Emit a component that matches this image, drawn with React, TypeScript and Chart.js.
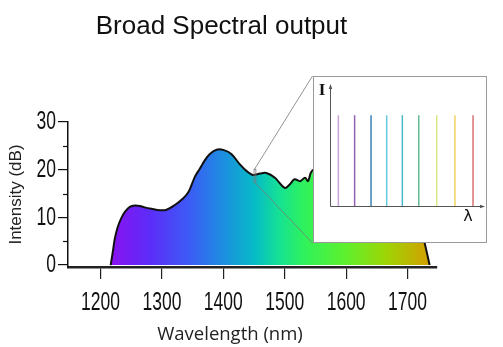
import React, { useEffect, useRef } from 'react';
import { Chart, registerables } from 'chart.js';

Chart.register(...registerables);

// ---------- data ----------
const TITLE = 'Broad Spectral output';
const X_LABEL = 'Wavelength (nm)';
const Y_LABEL = 'Intensity (dB)';
const X_TICKS = [1200, 1300, 1400, 1500, 1600, 1700];
const Y_TICKS = [0, 10, 20, 30];
const Y_MINOR_TICKS = [5, 15, 25];

const SPECTRUM_WL = [
  1216.5, 1220, 1223.3, 1228, 1234, 1240, 1247.7, 1256, 1264, 1272, 1283, 1296.6,
  1307.5, 1321, 1332, 1342.7, 1353.6, 1361.7, 1370, 1378, 1389, 1401, 1413, 1427,
  1438, 1448, 1460, 1470, 1484, 1500, 1508, 1516, 1525, 1533, 1538, 1544, 1560,
  1600, 1650, 1700, 1716, 1728, 1736,
];
const SPECTRUM_DB = [
  0, 2.8, 5.6, 8.0, 9.9, 11.2, 12.2, 12.5, 12.4, 12.1, 11.8, 11.5,
  11.6, 12.6, 13.7, 15.2, 18.5, 20.2, 22.0, 23.3, 24.2, 24.1, 23.3, 21.1,
  19.7, 18.9, 19.2, 19.3, 18.3, 16.2, 16.9, 18.0, 17.6, 18.3, 17.6, 19.7, 20.5,
  21, 20, 16, 11, 4.6, 0,
];

// zoomed window on the spectrum (wavelength range, intensity range)
const ZOOM_WL = [1450, 1453];
const ZOOM_DB = [17.4, 20.1];

// inset: comb lines (relative position along inset λ axis, 0..100) and level
const COMB_POS = [5.5, 16.2, 27.0, 37.3, 47.6, 58.4, 70.2, 82.2, 94.1];
const COMB_LEVEL = [0.75, 0.75, 0.75, 0.75, 0.75, 0.75, 0.75, 0.75, 0.75];

// ---------- styles ----------
const COMB_COLORS = [
  '#c9a3da', '#9361b3', '#3b80b2', '#63c9e0', '#45b9c9', '#62b991', '#d9e985', '#f0d262', '#d97272',
];
const GRADIENT_STOPS: [number, string][] = [
  [1216, '#8a12f0'],
  [1280, '#5c2cf8'],
  [1345, '#3c5cf6'],
  [1400, '#1c8ee0'],
  [1452, '#06bcc6'],
  [1492, '#16e292'],
  [1533, '#30f25a'],
  [1598, '#5ef02e'],
  [1663, '#9cd606'],
  [1736, '#d49e00'],
];
const SANS = "'Liberation Sans', Arial, sans-serif";
const TICK_FONT = "25px 'Liberation Sans', Arial, sans-serif";
const SQUEEZE = 0.7;
const INSET = { left: 312.5, top: 76, width: 174, height: 167 };

function drawSqueezed(ctx: CanvasRenderingContext2D, text: string, x: number, y: number, align: CanvasTextAlign) {
  ctx.save();
  ctx.translate(x, y);
  ctx.scale(SQUEEZE, 1);
  ctx.textAlign = align;
  ctx.textBaseline = 'middle';
  ctx.fillText(text, 0, 0);
  ctx.restore();
}

const overlayPlugin = {
  id: 'overlay',
  afterDraw(chart: any) {
    const { ctx, scales } = chart;
    const x = scales.x;
    const y = scales.y;
    ctx.save();
    // minor y ticks
    ctx.strokeStyle = '#111';
    ctx.lineWidth = 1.2;
    Y_MINOR_TICKS.forEach((v) => {
      const py = Math.round(y.getPixelForValue(v)) + 0.5;
      ctx.beginPath();
      ctx.moveTo(x.left - 5, py);
      ctx.lineTo(x.left, py);
      ctx.stroke();
    });
    // tick labels (condensed face)
    ctx.fillStyle = '#111';
    ctx.font = TICK_FONT;
    X_TICKS.forEach((v) => drawSqueezed(ctx, String(v), x.getPixelForValue(v), 303, 'center'));
    Y_TICKS.forEach((v) => drawSqueezed(ctx, String(v), 56, y.getPixelForValue(v) + 0.5, 'right'));
    // zoom rectangle and connector lines
    const x0 = x.getPixelForValue(ZOOM_WL[0]);
    const x1 = x.getPixelForValue(ZOOM_WL[1]);
    const y0 = y.getPixelForValue(ZOOM_DB[1]);
    const y1 = y.getPixelForValue(ZOOM_DB[0]);
    ctx.strokeStyle = '#7a7a7a';
    ctx.lineWidth = 0.8;
    ctx.strokeRect(x0, y0, x1 - x0, y1 - y0);
    ctx.beginPath();
    ctx.moveTo(x0 + 0.5, y0);
    ctx.lineTo(INSET.left, INSET.top);
    ctx.moveTo(x0 + 0.5, y1);
    ctx.lineTo(INSET.left, INSET.top + INSET.height);
    ctx.stroke();
    // x axis title
    ctx.fillStyle = '#222';
    ctx.font = "18.5px 'Open Sans', sans-serif";
    ctx.textAlign = 'center';
    ctx.textBaseline = 'middle';
    ctx.fillText(X_LABEL, 230, 335);
    ctx.restore();
  },
};

const insetAxesPlugin = {
  id: 'insetAxes',
  afterDraw(chart: any) {
    const { ctx, chartArea } = chart;
    const { left, top, right, bottom } = chartArea;
    const ox = Math.round(left) + 0.5;
    const oy = Math.round(bottom) + 0.5;
    ctx.save();
    ctx.strokeStyle = '#555';
    ctx.fillStyle = '#555';
    ctx.lineWidth = 1;
    ctx.beginPath();
    ctx.moveTo(ox, oy);
    ctx.lineTo(ox, top);
    ctx.moveTo(ox, oy);
    ctx.lineTo(right + 2, oy);
    ctx.stroke();
    ctx.beginPath();
    ctx.moveTo(ox, top - 1);
    ctx.lineTo(ox - 1.8, top + 4);
    ctx.lineTo(ox + 1.8, top + 4);
    ctx.closePath();
    ctx.fill();
    ctx.beginPath();
    ctx.moveTo(right + 3, oy);
    ctx.lineTo(right - 2, oy - 1.8);
    ctx.lineTo(right - 2, oy + 1.8);
    ctx.closePath();
    ctx.fill();
    ctx.fillStyle = '#111';
    ctx.textAlign = 'center';
    ctx.textBaseline = 'middle';
    ctx.font = "bold 17px 'Liberation Serif', 'DejaVu Serif', serif";
    ctx.fillText('I', left - 8, top + 6);
    ctx.font = "16px 'DejaVu Sans', sans-serif";
    ctx.fillText('λ', right - 14, bottom + 11);
    ctx.restore();
  },
};

export default function App() {
  const mainRef = useRef<HTMLCanvasElement>(null);
  const insetRef = useRef<HTMLCanvasElement>(null);

  useEffect(() => {
    const main = new Chart(mainRef.current as HTMLCanvasElement, {
      type: 'line',
      data: {
        datasets: [
          {
            data: SPECTRUM_WL.map((wl, i) => ({ x: wl, y: SPECTRUM_DB[i] })),
            borderColor: '#111',
            borderWidth: 2,
            pointRadius: 0,
            tension: 0.35,
            fill: 'origin',
            backgroundColor: (context: any) => {
              const chart = context.chart;
              const { ctx, chartArea, scales } = chart;
              if (!chartArea || !scales.x) return '#3c5cf6';
              const xs = scales.x;
              const a = xs.getPixelForValue(GRADIENT_STOPS[0][0]);
              const b = xs.getPixelForValue(GRADIENT_STOPS[GRADIENT_STOPS.length - 1][0]);
              const g = ctx.createLinearGradient(a, 0, b, 0);
              GRADIENT_STOPS.forEach(([wl, c]) => {
                g.addColorStop((xs.getPixelForValue(wl) - a) / (b - a), c);
              });
              return g;
            },
          } as any,
        ],
      },
      options: {
        responsive: false,
        animation: false,
        layout: { padding: { left: 6, right: 66, top: 0, bottom: 0 } },
        plugins: {
          legend: { display: false },
          tooltip: { enabled: false },
          title: {
            display: true,
            text: TITLE,
            color: '#111',
            font: { family: SANS, size: 26, weight: 'normal' as any },
            padding: { top: 11.4, bottom: 79.4 },
          },
        },
        scales: {
          x: {
            type: 'linear',
            min: 1147,
            max: 1748,
            afterBuildTicks: (s: any) => {
              s.ticks = X_TICKS.map((value) => ({ value }));
            },
            afterFit: (s: any) => {
              s.height = 80;
            },
            grid: { drawOnChartArea: false, drawTicks: true, tickLength: 12, color: '#222', lineWidth: 1.2 },
            border: { display: true, color: '#222', width: 2.5 },
            ticks: { display: false },
          },
          y: {
            type: 'linear',
            min: -0.4,
            max: 30,
            afterBuildTicks: (s: any) => {
              s.ticks = Y_TICKS.map((value) => ({ value }));
            },
            afterFit: (s: any) => {
              s.width = 62;
            },
            grid: { drawOnChartArea: false, drawTicks: true, tickLength: 10, color: '#111', lineWidth: 1.2 },
            border: { display: true, color: '#111', width: 1.5 },
            ticks: { display: false },
            title: {
              display: true,
              text: Y_LABEL,
              color: '#222',
              font: { family: SANS, size: 17 },
              padding: { top: 0, bottom: 0 },
            },
          },
        },
      },
      plugins: [overlayPlugin],
    } as any);

    const inset = new Chart(insetRef.current as HTMLCanvasElement, {
      type: 'line',
      data: {
        datasets: COMB_POS.map((p, i) => ({
          data: [
            { x: p, y: 0 },
            { x: p, y: COMB_LEVEL[i] },
          ],
          borderColor: COMB_COLORS[i],
          borderWidth: 1.5,
          pointRadius: 0,
          fill: false,
          clip: false,
        })),
      },
      options: {
        responsive: false,
        animation: false,
        layout: { padding: { left: 16, top: 8, right: 4, bottom: 36 } },
        plugins: { legend: { display: false }, tooltip: { enabled: false } },
        scales: {
          x: { type: 'linear', min: 0, max: 100, display: false },
          y: { type: 'linear', min: 0, max: 1, display: false },
        },
      },
      plugins: [insetAxesPlugin],
    } as any);

    return () => {
      main.destroy();
      inset.destroy();
    };
  }, []);

  return (
    <div style={{ position: 'absolute', left: 0, top: 0, width: 503, height: 347, background: '#fff' }}>
      <canvas ref={mainRef} width={503} height={347} style={{ position: 'absolute', left: 0, top: 0 }} />
      <div
        style={{
          position: 'absolute',
          left: INSET.left,
          top: INSET.top,
          width: INSET.width,
          height: INSET.height,
          border: '1px solid #9a9a9a',
          background: '#fff',
          boxSizing: 'border-box',
        }}
      >
        <canvas ref={insetRef} width={172} height={165} style={{ display: 'block' }} />
      </div>
    </div>
  );
}
